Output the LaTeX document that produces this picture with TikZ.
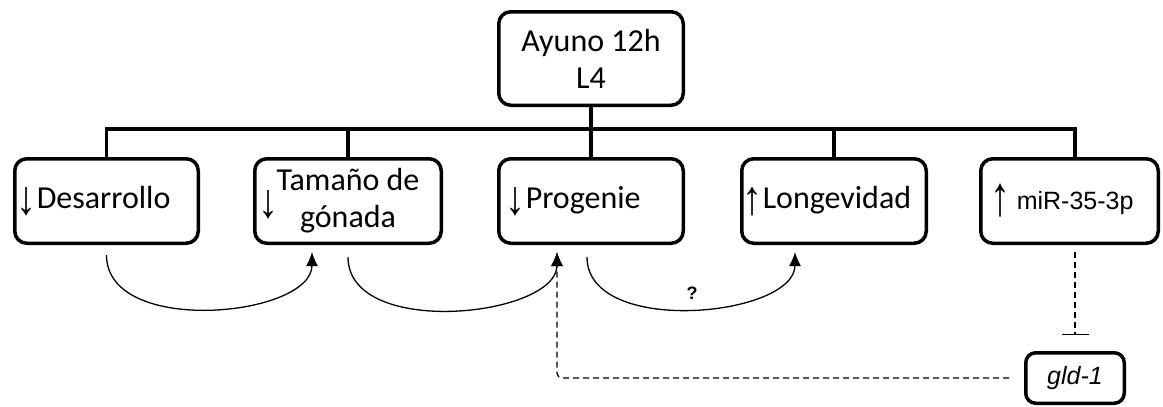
\documentclass[tikz,border=0pt]{standalone}
\usepackage{fontspec}
\usepackage{graphicx}
\setmainfont{Carlito}
\newfontfamily\arialfont{Liberation Sans}
\usetikzlibrary{arrows.meta,calc}
\newcommand\myDown{\raisebox{-6pt}{\scalebox{1.25}[1.5]{\arialfont ↓}}}
\newcommand\myUp{\raisebox{-6pt}{\scalebox{1.25}[1.5]{\arialfont ↑}}}
\begin{document}
\begin{tikzpicture}[x=1pt,y=-1pt,
  box/.style={draw, line width=3.5pt, rounded corners=12pt, minimum height=84.5pt, inner ysep=0pt},
  txt/.style={font=\fontsize{32}{37}\selectfont},
  bus/.style={line width=3.5pt},
  curve/.style={line width=1.3pt, -{Latex[length=14pt,width=12pt]}},
  dashline/.style={line width=1.3pt, dash pattern=on 6pt off 4pt}]
\useasboundingbox (0,0) rectangle (1163,407);
% boxes
\node[box, txt, minimum width=184.5pt, minimum height=93.5pt, align=center] (top) at (591,58.5) {Ayuno 12h\\L4};
\node[box, txt, text width=179.5pt, inner xsep=2pt, align=left] (des) at (106.5,201) {\myDown Desarrollo};
\node[box, txt, minimum width=186.5pt, align=center] (tam) at (348,201) {Tamaño de\\gónada};
\node[txt, inner sep=0pt] (tamarr) at (268,205) {\myDown};
\node[box, txt, text width=170.5pt, inner xsep=7pt, align=left] (prog) at (591,201) {\myDown Progenie};
\node[box, txt, text width=182.5pt, inner xsep=1pt, align=left] (long) at (834,201) {\myUp Longevidad};
\node[box, txt, text width=157.5pt, inner xsep=10pt, align=left] (mir) at (1069.5,201) {\raisebox{-6pt}{\scalebox{1.25}[1.75]{\arialfont ↑}}\hspace{6pt}{\arialfont\fontsize{25}{30}\selectfont miR-35-3p}};
\node[box, rounded corners=10pt, minimum width=98.5pt, minimum height=50.5pt, font=\arialfont\itshape\fontsize{25}{30}\selectfont] (gld) at (1075,378) {gld-1};
% bus
\coordinate (busy) at (0,129);
\coordinate (mirtop) at ($(mir.north)+(5.5,0)$);
\draw[bus] (top.south) -- (prog.north);
\draw[bus] (des.north) |- (busy -| mirtop) -- (mirtop);
\draw[bus] (tam.north) -- (tam.north |- busy);
\draw[bus] (long.north) -- (long.north |- busy);
% curved arrows
\draw[curve] ($(des.south)+(0,10)$) .. controls +(0,82) and +(0,65) .. ($(tam.south)+(-36,7)$);
\draw[curve] ($(tam.south)+(0,12)$) .. controls +(0,82) and +(0,65) .. ($(prog.south)+(-34,7)$);
\draw[curve] ($(prog.south)+(-4,12)$) .. controls +(0,80) and +(0,65) .. ($(long.south)+(-39,7)$);
\node[font=\arialfont\bfseries\fontsize{18}{20}\selectfont] (q) at (692,293) {?};
% dashed
\draw[dashline, rounded corners=5pt, -{Latex[length=14pt,width=12pt]}] ([xshift=-15pt]gld.west) -| ($(prog.south)+(-34,7)$);
\draw[dashline, -{Bar[width=27pt, line width=1.3pt]}] ($(mir.south)+(5.5,7)$) -- ++(0,83);
\end{tikzpicture}
\end{document}
